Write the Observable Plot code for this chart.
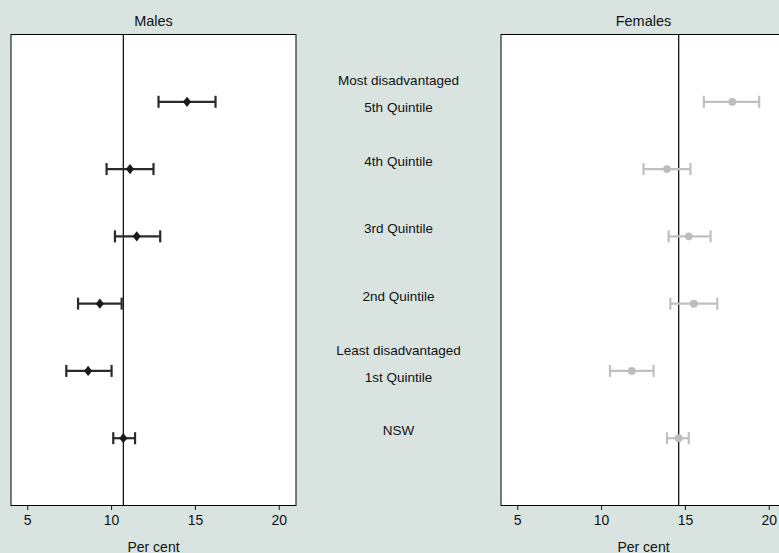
<!DOCTYPE html>
<html><head><meta charset="utf-8">
<script src="https://cdn.jsdelivr.net/npm/d3@7"></script>
<script src="https://cdn.jsdelivr.net/npm/@observablehq/plot@0.6"></script>
<style>
html,body{margin:0;padding:0;overflow:hidden;background:#d9e4e1;}
#chart{position:relative;width:779px;height:553px;overflow:hidden;background:#d9e4e1;}
#chart svg{position:absolute;top:0;}
</style></head><body><div id="chart"></div>
<script>
// Data
const quintiles = ["5th Quintile", "4th Quintile", "3rd Quintile", "2nd Quintile", "1st Quintile", "NSW"];
const rowLabels = ["Most disadvantaged\n5th Quintile", "4th Quintile", "3rd Quintile", "2nd Quintile", "Least disadvantaged\n1st Quintile", "NSW"];
const maleEst = [14.5, 11.1, 11.5, 9.3, 8.6, 10.7];
const maleLo  = [12.8, 9.7, 10.2, 8.0, 7.3, 10.1];
const maleHi  = [16.2, 12.5, 12.9, 10.6, 10.0, 11.4];
const femaleEst = [17.8, 13.9, 15.2, 15.5, 11.8, 14.6];
const femaleLo  = [16.1, 12.5, 14.0, 14.1, 10.5, 13.9];
const femaleHi  = [19.4, 15.3, 16.5, 16.9, 13.1, 15.2];
const xTicks = [5, 10, 15, 20];
const xDomain = [4, 21];
const panelTitles = ["Males", "Females"];
const axisLabel = "Per cent";

const FONT = "'Liberation Sans', Arial, Helvetica, sans-serif";
const H = 553, MT = 34, MB = 48;

const diamond = {draw(ctx, size) {
  const r = Math.sqrt(size / Math.PI);
  ctx.moveTo(0, -r * 1.7); ctx.lineTo(r * 1.35, 0); ctx.lineTo(0, r * 1.7); ctx.lineTo(-r * 1.35, 0); ctx.closePath();
}};
const cap = {draw(ctx, size) {
  const r = Math.sqrt(size / Math.PI);
  ctx.moveTo(0, -r); ctx.lineTo(0, r);
}};

const yScale = {type: "point", domain: quintiles, padding: 1, round: false, axis: null};

function panel(title, est, lo, hi, barColor, dotColor, symbol, r, left) {
  const rows = quintiles.map((q, i) => ({q, est: est[i], lo: lo[i], hi: hi[i]}));
  const svg = Plot.plot({
    width: 300, height: H,
    marginLeft: 10.5, marginRight: 4.5, marginTop: MT, marginBottom: MB,
    style: {fontFamily: FONT, background: "transparent", overflow: "visible", color: "#111"},
    x: {domain: xDomain},
    y: yScale,
    marks: [
      Plot.frame({fill: "white", stroke: "black", strokeWidth: 1}),
      Plot.ruleX([est[est.length - 1]], {stroke: "black", strokeWidth: 1.2}),
      Plot.ruleY(rows, {y: "q", x1: "lo", x2: "hi", stroke: barColor, strokeWidth: 2.2}),
      Plot.dot(rows, {y: "q", x: "lo", symbol: cap, r: 6, fill: "none", stroke: barColor, strokeWidth: 2.2}),
      Plot.dot(rows, {y: "q", x: "hi", symbol: cap, r: 6, fill: "none", stroke: barColor, strokeWidth: 2.2}),
      Plot.dot(rows, {y: "q", x: "est", symbol, r, fill: dotColor, stroke: "none"}),
      Plot.axisX(xTicks, {tickSize: 5, tickPadding: 5, fontSize: 14, stroke: "#111", label: axisLabel, labelAnchor: "center", labelArrow: "none", labelOffset: 46}),
      Plot.text([title], {frameAnchor: "top", lineAnchor: "middle", dy: -13, fontSize: 14.5, fill: "#111"})
    ]
  });
  svg.style.left = left + "px";
  return svg;
}

const chart = document.getElementById("chart");
chart.appendChild(panel(panelTitles[0], maleEst, maleLo, maleHi, "#2a2a2a", "#1a1a1a", diamond, 3, 0));

const mid = Plot.plot({
  width: 206, height: H, marginLeft: 0, marginRight: 0, marginTop: MT, marginBottom: MB,
  style: {fontFamily: FONT, background: "transparent", overflow: "visible"},
  y: yScale,
  marks: [
    Plot.text(rowLabels, {y: (d, i) => quintiles[i], text: d => d, fontSize: 13.5, lineHeight: 2.0, dy: -11.5, fill: "#111"})
  ]
});
mid.style.left = "295px";
chart.appendChild(mid);

chart.appendChild(panel(panelTitles[1], femaleEst, femaleLo, femaleHi, "#c0c0c0", "#bdbdbd", "circle", 3.9, 490));
</script></body></html>
